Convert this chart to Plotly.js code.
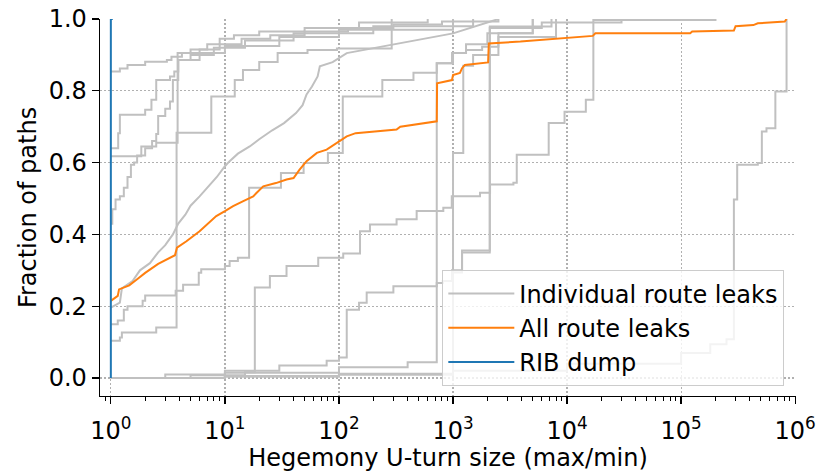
<!DOCTYPE html>
<html>
<head>
<meta charset="utf-8">
<script src="https://cdn.plot.ly/plotly-3.0.1.min.js"></script>
<style>
html,body{margin:0;padding:0;background:#fff;}
#chart{width:817px;height:472px;}
</style>
</head>
<body>
<div id="chart"></div>
<script>
// ---------- data ----------
const xTickVals = [1, 10, 100, 1000, 10000, 100000, 1000000];
const xTickText = ["10<sup>0</sup>", "10<sup>1</sup>", "10<sup>2</sup>", "10<sup>3</sup>", "10<sup>4</sup>", "10<sup>5</sup>", "10<sup>6</sup>"];
const yTickVals = [0, 0.2, 0.4, 0.6, 0.8, 1.0];

const seriesNames = ["Individual route leaks", "All route leaks", "RIB dump"];

// individual route leaks (CDFs)
const leak1X = [1, 1.2, 1.4, 2, 3.1, 3.4, 4.2, 6, 9, 14, 25, 50, 120, 300, 800, 2500];
const leak1Y = [0.854, 0.862, 0.872, 0.881, 0.886, 0.895, 0.905, 0.915, 0.93, 0.945, 0.955, 0.965, 0.975, 0.985, 0.993, 1.0];

const leak2X = [1, 1.85, 2.5, 3.85, 5, 7, 9, 12, 20, 50, 150, 600];
const leak2Y = [0.618, 0.645, 0.655, 0.905, 0.915, 0.93, 0.945, 0.955, 0.965, 0.975, 0.99, 1.0];

const leak3X = [1, 1.03, 1.1, 1.2, 1.3, 1.4, 1.5, 1.6, 1.7, 2.0, 2.3, 2.5, 2.6, 3.0, 3.3, 3.5, 3.9, 5, 8, 15, 40, 200, 1500];
const leak3Y = [0.43, 0.47, 0.497, 0.506, 0.53, 0.56, 0.594, 0.60, 0.62, 0.64, 0.66, 0.68, 0.73, 0.75, 0.77, 0.83, 0.886, 0.90, 0.92, 0.94, 0.96, 0.98, 1.0];

const leak4X = [1, 1.16, 1.2, 2.0, 2.27, 2.5, 3.3, 3.6, 3.9, 6, 10, 30, 100, 1000];
const leak4Y = [0.64, 0.682, 0.733, 0.747, 0.775, 0.83, 0.84, 0.854, 0.886, 0.905, 0.925, 0.95, 0.97, 1.0];

const leak5X = [1, 1.2, 1.25, 2.5, 3.77, 7.6, 12.2, 14.4, 20, 29, 53, 96, 290];
const leak5Y = [0.104, 0.113, 0.127, 0.141, 0.683, 0.784, 0.83, 0.858, 0.88, 0.905, 0.914, 0.918, 1.0];

const leak6X = [1, 1.15, 1.3, 1.4, 1.9, 2.0, 3.7, 4.3, 5.9, 6.2, 10, 11, 13, 16.3, 31, 49, 80, 108, 240, 450, 720, 1000, 1300, 2000, 5000];
const leak6Y = [0.15, 0.16, 0.19, 0.20, 0.215, 0.23, 0.243, 0.26, 0.293, 0.303, 0.312, 0.326, 0.335, 0.53, 0.571, 0.599, 0.627, 0.784, 0.83, 0.85, 0.877, 0.905, 0.93, 0.96, 1.0];

const leak7X = [1, 1.2, 1.25, 1.55, 1.8, 2.2, 2.6, 3.0, 3.5, 3.9, 4.5, 5, 6, 7, 8.5, 10, 11, 13, 16.5, 20, 26, 33, 42, 48, 52, 58, 65, 68, 88, 117, 300, 1000, 2500];
const leak7Y = [0.196, 0.21, 0.25, 0.27, 0.30, 0.32, 0.35, 0.37, 0.40, 0.43, 0.455, 0.48, 0.506, 0.53, 0.56, 0.59, 0.604, 0.625, 0.645, 0.665, 0.69, 0.71, 0.738, 0.76, 0.79, 0.812, 0.84, 0.868, 0.88, 0.905, 0.93, 0.96, 1.0];

const leak8X = [1, 3, 10, 30, 78, 100, 117, 150, 175, 300, 720, 815, 980, 1200, 2100, 7300];
const leak8Y = [0.0, 0.01, 0.02, 0.035, 0.048, 0.057, 0.19, 0.21, 0.238, 0.256, 0.265, 0.27, 0.30, 0.355, 0.979, 1.0];

const leak9X = [1, 5, 15, 18.3, 24.8, 34.7, 65.8, 109, 153, 187, 320, 480, 822, 975, 1725, 2112, 3384, 3620, 6900, 9500, 14600, 17000, 200000];
const leak9Y = [0.0, 0.008, 0.016, 0.252, 0.284, 0.312, 0.335, 0.347, 0.409, 0.428, 0.442, 0.465, 0.474, 0.506, 0.516, 0.539, 0.544, 0.622, 0.71, 0.742, 0.775, 0.997, 1.0];

const leak10X = [1, 10, 100, 400, 720, 980, 1300, 1800, 2500, 5000];
const leak10Y = [0.0, 0.015, 0.03, 0.044, 0.877, 0.905, 0.914, 0.923, 0.96, 1.0];

const leak11X = [1, 10, 100, 1000, 1200, 2100, 6000, 30000];
const leak11Y = [0.0, 0.005, 0.012, 0.294, 0.35, 0.975, 0.99, 1.0];

const leak12X = [1, 10, 100, 1000, 1230, 1500, 2500, 8000];
const leak12Y = [0.0, 0.004, 0.01, 0.627, 0.87, 0.9, 0.95, 1.0];

const leak13X = [1, 10, 100, 1000, 10000, 100000, 180000, 250000, 290000, 310000, 470000, 510000, 560000, 670000, 840000];
const leak13Y = [0.0, 0.005, 0.01, 0.02, 0.04, 0.07, 0.094, 0.108, 0.497, 0.594, 0.599, 0.687, 0.696, 0.798, 1.0];

// all route leaks
const allX = [1, 1.15, 1.18, 1.45, 1.7, 2.0, 2.6, 3.3, 3.65, 3.8, 4.6, 6.0, 8.4, 10, 11.8, 14.5, 17.7, 19, 21.7, 28, 34.7, 40, 45, 52, 64, 78, 95, 117, 140, 213, 320, 345, 720, 725, 980, 1000, 1150, 1200, 1270, 2030, 2060, 3900, 6600, 16800, 17700, 120000, 125000, 290000, 300000, 430000, 470000, 640000, 810000, 840000];
const allY = [0.215, 0.229, 0.247, 0.258, 0.275, 0.293, 0.318, 0.335, 0.342, 0.363, 0.381, 0.409, 0.451, 0.465, 0.479, 0.493, 0.506, 0.516, 0.534, 0.543, 0.553, 0.557, 0.58, 0.604, 0.627, 0.636, 0.655, 0.673, 0.682, 0.687, 0.692, 0.70, 0.715, 0.821, 0.83, 0.844, 0.85, 0.863, 0.872, 0.879, 0.932, 0.937, 0.943, 0.953, 0.96, 0.96, 0.965, 0.968, 0.98, 0.983, 0.988, 0.99, 0.993, 1.0];

// RIB dump
const ribX = [1, 1, 1.04];
const ribY = [0, 1, 1];

// minor log ticks (2..9 within each decade, plus 0.8 and 0.9 below 10^0)
const minorTickVals = [0.8, 0.9];
for (let d = 0; d < 6; d++) {
  for (let k = 2; k <= 9; k++) minorTickVals.push(k * Math.pow(10, d));
}

// ---------- traces ----------
const leaks = [
  [leak1X, leak1Y, "hv"], [leak2X, leak2Y, "hv"], [leak3X, leak3Y, "hv"],
  [leak4X, leak4Y, "hv"], [leak5X, leak5Y, "hv"], [leak6X, leak6Y, "hv"],
  [leak7X, leak7Y, "linear"], [leak8X, leak8Y, "hv"], [leak9X, leak9Y, "hv"],
  [leak10X, leak10Y, "hv"], [leak11X, leak11Y, "hv"], [leak12X, leak12Y, "hv"],
  [leak13X, leak13Y, "hv"]
];

const traces = leaks.map((s, i) => ({
  type: "scatter", mode: "lines",
  x: s[0], y: s[1],
  line: {color: "#c0c0c0", width: 2, shape: s[2]},
  name: seriesNames[0], legendgroup: "g", showlegend: i === 0,
  hoverinfo: "skip"
}));

traces.push({
  type: "scatter", mode: "lines", x: allX, y: allY,
  line: {color: "#ff7f0e", width: 2, shape: "linear"},
  name: seriesNames[1], legendgroup: "o", showlegend: true
});
traces.push({
  type: "scatter", mode: "lines", x: ribX, y: ribY,
  line: {color: "#1f77b4", width: 2, shape: "linear"},
  name: seriesNames[2], legendgroup: "b", showlegend: true
});

const font = "DejaVu Sans, sans-serif";
const fs = 24;
const layout = {
  width: 817, height: 472,
  margin: {l: 100, r: 21, t: 19, b: 76},
  paper_bgcolor: "#fff", plot_bgcolor: "#fff",
  font: {family: font, size: fs, color: "#000"},
  showlegend: true,
  legend: {
    x: 0.4914, y: 0.334, xanchor: "left", yanchor: "top",
    bgcolor: "rgba(255,255,255,0.8)", bordercolor: "#cccccc", borderwidth: 1.3,
    font: {family: font, size: fs, color: "#000"},
    traceorder: "grouped", tracegroupgap: 0, itemwidth: 66
  },
  xaxis: {
    type: "log", range: [-0.095, 6.007],
    tickmode: "array", tickvals: xTickVals, ticktext: xTickText,
    ticks: "outside", ticklen: 7, tickwidth: 1.3, tickcolor: "#000",
    ticklabelstandoff: 6,
    showline: true, linecolor: "#000", linewidth: 1.3, mirror: false,
    showgrid: true, gridcolor: "#b0b0b0", gridwidth: 1.2, griddash: "1.5px,2.5px",
    zeroline: false,
    tickfont: {family: font, size: fs},
    minor: {tickmode: "array", tickvals: minorTickVals, ticks: "outside", ticklen: 4, tickwidth: 1, tickcolor: "#000", showgrid: false},
    title: {text: "Hegemony U-turn size (max/min)", font: {family: font, size: fs}, standoff: 14}
  },
  yaxis: {
    range: [-0.05, 1.0],
    tickmode: "array", tickvals: yTickVals, tickformat: ".1f",
    ticks: "outside", ticklen: 7, tickwidth: 1.3, tickcolor: "#000",
    showline: true, linecolor: "#000", linewidth: 1.3,
    showgrid: true, gridcolor: "#b0b0b0", gridwidth: 1.2, griddash: "1.5px,2.5px",
    zeroline: false,
    tickfont: {family: font, size: fs},
    title: {text: "Fraction of paths", font: {family: font, size: fs}, standoff: 5}
  }
};

Plotly.newPlot("chart", traces, layout, {staticPlot: true, displayModeBar: false});
</script>
</body>
</html>
